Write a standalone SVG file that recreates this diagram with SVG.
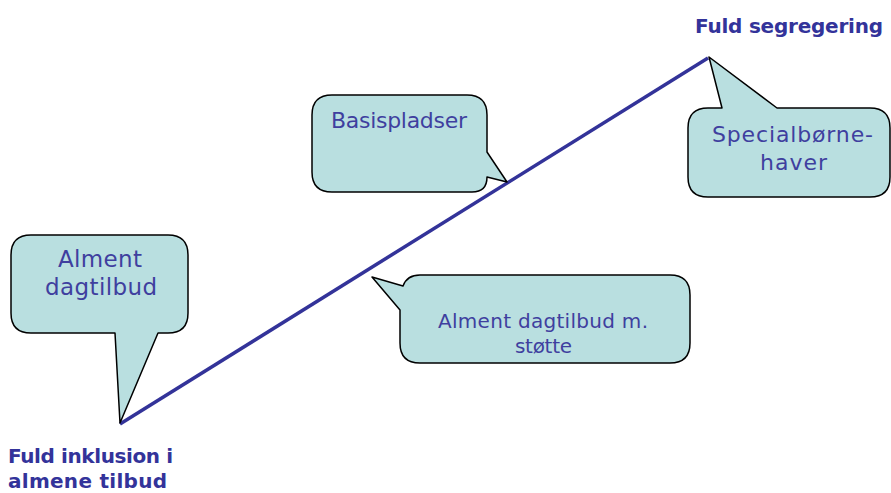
<svg xmlns="http://www.w3.org/2000/svg" width="891" height="493" viewBox="0 0 891 493">
<style>
.c{fill:#b9dfe0;stroke:#000;stroke-width:1.5;stroke-linejoin:round}
.t{font-family:"DejaVu Sans",sans-serif;fill:#3f3f9f}
.b{font-family:"DejaVu Sans",sans-serif;fill:#33339a;font-weight:bold;font-size:20px}
</style>
<rect width="891" height="493" fill="#fff"/>
<g id="connectors">
<line x1="120" y1="424" x2="708" y2="58" stroke="#333399" stroke-width="3.5"/>
</g>
<g id="node-alment">
<path class="c" d="M31,235 H168 Q188,235 188,255 V313 Q188,333 168,333 H158 L120,423 L115,333 H31 Q11,333 11,313 V255 Q11,235 31,235 Z"/>
<text class="t" font-size="23" x="58" y="267" textLength="84">Alment</text>
<text class="t" font-size="23" x="45" y="295" textLength="112">dagtilbud</text>
</g>
<g id="node-basis">
<path class="c" d="M332,95 H467 Q487,95 487,115 V152 L507,182 L487,177 Q487,192 472,192 H332 Q312,192 312,172 V115 Q312,95 332,95 Z"/>
<text class="t" font-size="22" x="331" y="128" textLength="136">Basispladser</text>
</g>
<g id="node-special">
<path class="c" d="M708,108 H722 L709,57 L777,108 H870 Q890,108 890,128 V177 Q890,197 870,197 H708 Q688,197 688,177 V128 Q688,108 708,108 Z"/>
<text class="t" font-size="22" x="712" y="142" textLength="161">Specialbørne-</text>
<text class="t" font-size="22" x="760" y="170" textLength="67">haver</text>
</g>
<g id="node-stotte">
<path class="c" d="M420,275 H670 Q690,275 690,295 V343 Q690,363 670,363 H420 Q400,363 400,343 V310 L372,277 L403,286 Q407,275 420,275 Z"/>
<text class="t" font-size="20" x="438" y="328" textLength="210">Alment dagtilbud m.</text>
<text class="t" font-size="20" x="515" y="353" textLength="57">støtte</text>
</g>
<g id="label-seg">
<text class="b" x="695" y="33" textLength="188">Fuld segregering</text>
</g>
<g id="label-ink">
<text class="b" x="8" y="463" textLength="165">Fuld inklusion i</text>
<text class="b" x="8" y="488" textLength="159">almene tilbud</text>
</g>
</svg>
